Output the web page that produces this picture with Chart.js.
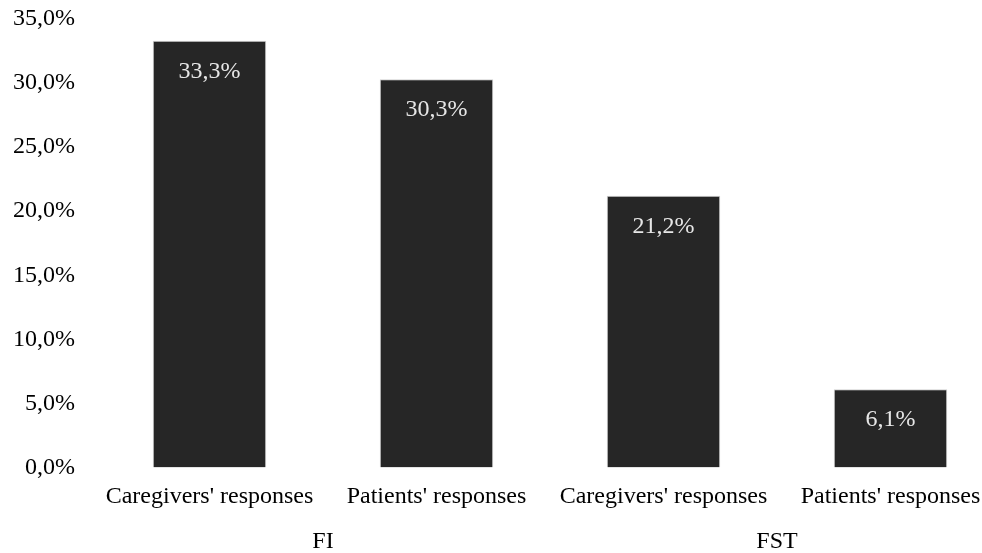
<!DOCTYPE html>
<html>
<head>
<meta charset="utf-8">
<script src="https://cdn.jsdelivr.net/npm/chart.js@4"></script>
<style>
  html, body { margin: 0; padding: 0; background: #ffffff; overflow: hidden; }
  #chart { display: block; }
</style>
</head>
<body>
<canvas id="chart" width="1010" height="553"></canvas>
<script>
// bars, left to right
const categories = ["Caregivers' responses", "Patients' responses", "Caregivers' responses", "Patients' responses"];
const values = [33.3, 30.3, 21.2, 6.1];
// group names under each pair of bars
const groups = ['FI', 'FST'];
const yTicks = ['0,0%', '5,0%', '10,0%', '15,0%', '20,0%', '25,0%', '30,0%', '35,0%'];

const fontFamily = '"Liberation Serif", "Times New Roman", serif';

function pct(v) {
    return v.toFixed(1).replace('.', ',') + '%';
}

// value written inside the top of each bar
const barValuePlugin = {
    id: 'barValues',
    afterDatasetsDraw: function (chart) {
        const ctx = chart.ctx;
        const meta = chart.getDatasetMeta(0);
        ctx.save();
        ctx.font = '24px ' + fontFamily;
        ctx.fillStyle = '#e6e6e6';
        ctx.textAlign = 'center';
        ctx.textBaseline = 'alphabetic';
        meta.data.forEach(function (bar, i) {
            ctx.fillText(pct(values[i]), bar.x, bar.y + 37);
        });
        ctx.restore();
    }
};

const ctx = document.getElementById('chart').getContext('2d');
new Chart(ctx, {
    type: 'bar',
    data: {
        labels: categories,
        datasets: [{
            data: values,
            backgroundColor: '#262626',
            borderColor: '#cfcfcf',
            borderWidth: 1,
            categoryPercentage: 1,
            barPercentage: 0.5,
            xAxisID: 'x'
        }]
    },
    options: {
        responsive: false,
        animation: false,
        layout: { padding: { left: 0, right: 6, top: 19, bottom: -4 } },
        plugins: {
            legend: { display: false },
            tooltip: { enabled: false }
        },
        scales: {
            y: {
                min: 0,
                max: 35,
                grid: { display: false, drawTicks: false },
                border: { display: false },
                afterFit: function (scale) {
                    scale.width = 96;
                    scale.paddingTop = 0;
                    scale.paddingBottom = 0;
                },
                ticks: {
                    stepSize: 5,
                    padding: 21,
                    color: '#000000',
                    font: { family: fontFamily, size: 24 },
                    callback: function (value, index) { return yTicks[index]; }
                }
            },
            x: {
                grid: { display: false, drawTicks: false },
                border: { display: false },
                ticks: {
                    padding: 15,
                    color: '#000000',
                    maxRotation: 0,
                    autoSkip: false,
                    font: { family: fontFamily, size: 24 }
                }
            },
            x2: {
                type: 'category',
                position: 'bottom',
                labels: groups,
                offset: true,
                grid: { display: false, drawTicks: false },
                border: { display: false },
                ticks: {
                    padding: 1,
                    color: '#000000',
                    maxRotation: 0,
                    autoSkip: false,
                    font: { family: fontFamily, size: 24 }
                }
            }
        }
    },
    plugins: [barValuePlugin]
});
</script>
</body>
</html>
